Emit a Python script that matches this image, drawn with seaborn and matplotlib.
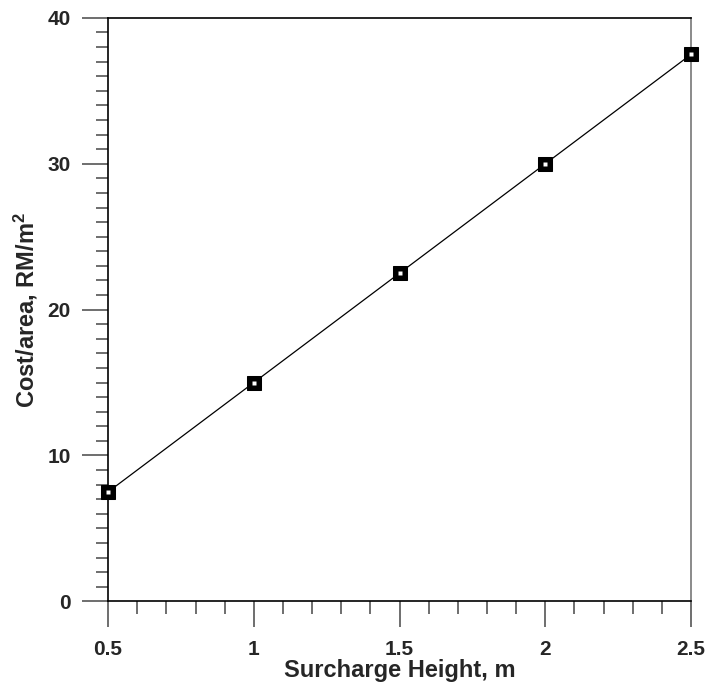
import numpy as np
import pandas as pd
import seaborn as sns
import matplotlib
matplotlib.use("Agg")
import matplotlib.pyplot as plt
from matplotlib.ticker import MultipleLocator

height = [0.5, 1.0, 1.5, 2.0, 2.5]
cost = [7.5, 15.0, 22.5, 30.0, 37.5]

df = pd.DataFrame({"height": height, "cost": cost})

sns.set_style("ticks")
plt.rcParams['font.family'] = ['Liberation Sans', 'DejaVu Sans']
plt.rcParams['mathtext.fontset'] = 'custom'
plt.rcParams['mathtext.bf'] = 'Liberation Sans:bold'

fig = plt.figure(figsize=(7.11, 6.88), dpi=100)
ax = fig.add_axes([0.152, 0.126, 0.820, 0.848])

sns.lineplot(data=df, x="height", y="cost", ax=ax, color="black", lw=0.9,
             marker="s", markersize=10, markerfacecolor="black",
             markeredgecolor="black", clip_on=False, zorder=3)
# small white centre in each marker
ax.plot(df["height"], df["cost"], ls="none", marker="s", markersize=3,
        markerfacecolor="white", markeredgecolor="none", clip_on=False, zorder=4)

ax.set_xlim(0.5, 2.5)
ax.set_ylim(0, 40)
ax.set_xticks([0.5, 1, 1.5, 2, 2.5])
ax.set_xticklabels(["0.5", "1", "1.5", "2", "2.5"])
ax.set_yticks([0, 10, 20, 30, 40])
ax.xaxis.set_minor_locator(MultipleLocator(0.1))
ax.yaxis.set_minor_locator(MultipleLocator(1))

ax.tick_params(which="major", direction="out", length=19, width=1.2, color="#555555",
               labelsize=15)
ax.tick_params(axis="x", which="major", pad=9)
ax.tick_params(axis="y", which="major", pad=8)
ax.tick_params(which="minor", direction="out", length=9, width=1.2, color="#555555")
ax.tick_params(top=False, right=False)
for lab in ax.get_xticklabels() + ax.get_yticklabels():
    lab.set_fontweight("bold")

for s in ax.spines.values():
    s.set_linewidth(1.2)
    s.set_color("black")
ax.spines["right"].set_color("#777777")

ax.set_xlabel("Surcharge Height, m", fontsize=17, fontweight="bold", labelpad=0)
ax.set_ylabel("Cost/area, RM/m$\\mathbf{^2}$", fontsize=17, fontweight="bold", labelpad=5)

fig.savefig("out.png", dpi=100)
